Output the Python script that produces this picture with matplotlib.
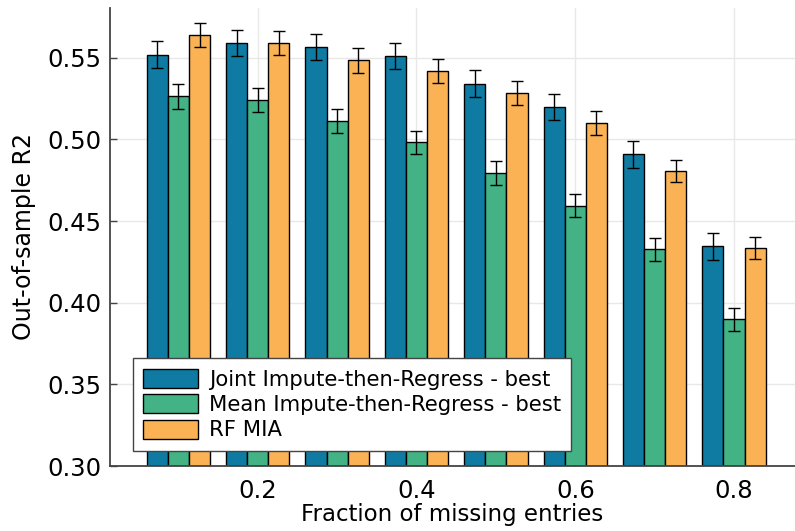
import matplotlib
matplotlib.use("Agg")
import matplotlib.pyplot as plt
import numpy as np

fractions = [0.1, 0.2, 0.3, 0.4, 0.5, 0.6, 0.7, 0.8]
joint_best = [0.552, 0.559, 0.5565, 0.551, 0.534, 0.520, 0.491, 0.4347]
joint_err = [0.008, 0.008, 0.0081, 0.008, 0.0083, 0.0081, 0.0083, 0.0083]
mean_best = [0.5264, 0.5241, 0.5113, 0.4982, 0.4797, 0.4595, 0.4326, 0.3899]
mean_err = [0.0075, 0.0075, 0.0075, 0.0071, 0.0074, 0.0073, 0.0071, 0.0071]
rf_mia = [0.5639, 0.559, 0.5484, 0.5419, 0.5284, 0.5101, 0.4807, 0.4337]
rf_err = [0.0075, 0.0075, 0.0075, 0.0072, 0.0072, 0.0071, 0.0069, 0.0067]

labels = ["Joint Impute-then-Regress - best",
          "Mean Impute-then-Regress - best",
          "RF MIA"]
colors = ["#107ba2", "#43b284", "#fab255"]

fig = plt.figure(figsize=(7.95, 5.31), dpi=100)
ax = fig.add_axes([110/795, 65/531, 685/795, 458/531])

x = np.array(fractions)
w = 0.08 / 3
series = [(joint_best, joint_err), (mean_best, mean_err), (rf_mia, rf_err)]
for i, (vals, errs) in enumerate(series):
    ax.bar(x + (i - 1) * w, np.array(vals) - 0.30, bottom=0.30, width=w,
           color=colors[i], edgecolor="black", linewidth=1.0,
           label=labels[i], zorder=2)
    ax.errorbar(x + (i - 1) * w, vals, yerr=errs, fmt="none", ecolor="black",
                elinewidth=1.0, capsize=4.3, capthick=1.0, zorder=3)

ax.set_xlim(0.0139, 0.8768)
ax.set_ylim(0.30, 0.5805)
ax.set_xticks([0.2, 0.4, 0.6, 0.8])
ax.set_xticklabels(["0.2", "0.4", "0.6", "0.8"])
ax.set_yticks([0.30, 0.35, 0.40, 0.45, 0.50, 0.55])
ax.set_yticklabels(["0.30", "0.35", "0.40", "0.45", "0.50", "0.55"])
ax.grid(True, color="#e8e8e8", linewidth=1.0, zorder=0)
ax.set_axisbelow(True)
for s in ["top", "right"]:
    ax.spines[s].set_visible(False)
for s in ["left", "bottom"]:
    ax.spines[s].set_color("#444444")
    ax.spines[s].set_linewidth(1.3)
ax.tick_params(direction="in", length=5, width=1.0, color="#444444",
               labelsize=17.5)
ax.tick_params(axis="x", pad=9)
ax.tick_params(axis="y", pad=6)
ax.set_xlabel("Fraction of missing entries", fontsize=16.5, labelpad=0)
ax.set_ylabel("Out-of-sample R2", fontsize=17, labelpad=8)

leg = ax.legend(loc="lower left", bbox_to_anchor=(0.033, 0.033),
                borderaxespad=0, fontsize=15.2, fancybox=False,
                framealpha=1.0, edgecolor="#444444", handlelength=2.6,
                handleheight=1.0, handletextpad=0.5, labelspacing=0.22,
                borderpad=0.5)
leg.get_frame().set_linewidth(1.0)
leg.set_zorder(5)

fig.savefig("out.png", dpi=100)
